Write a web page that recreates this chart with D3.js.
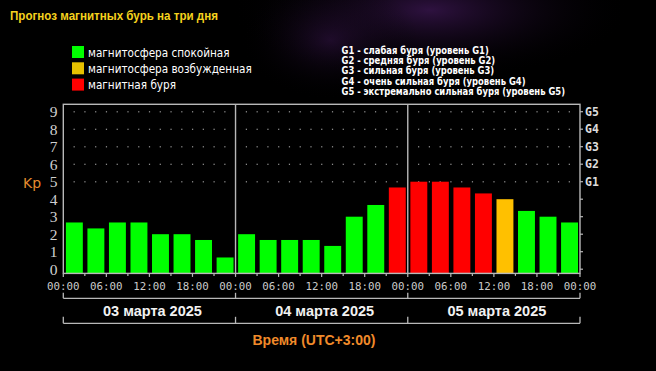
<!DOCTYPE html>
<html><head><meta charset="utf-8">
<script src="https://cdn.jsdelivr.net/npm/d3@7"></script>
<style>html,body{margin:0;padding:0;background:#000;}svg{display:block;}</style>
</head><body>
<svg id="c" width="656" height="371"></svg>
<script>
// ---- data ----
const days = ["03 марта 2025", "04 марта 2025", "05 марта 2025"];
const hourLabels = ["00:00", "06:00", "12:00", "18:00"];
const kp = [
  2.67, 2.33, 2.67, 2.67, 2.0, 2.0, 1.67, 0.67,
  2.0, 1.67, 1.67, 1.67, 1.33, 3.0, 3.67, 4.67,
  5.0, 5.0, 4.67, 4.33, 4.0, 3.33, 3.0, 2.67
];
const yTicks = [0,1,2,3,4,5,6,7,8,9];
const gLevels = [5,6,7,8,9];
const gLabels = ["G1","G2","G3","G4","G5"];
const legendItems = ["магнитосфера спокойная", "магнитосфера возбужденная", "магнитная буря"];
const legendColors = ["#00ff00", "#e6c000", "#ff0000"];
const gDescriptions = [
  "G1 - слабая буря (уровень G1)",
  "G2 - средняя буря (уровень G2)",
  "G3 - сильная буря (уровень G3)",
  "G4 - очень сильная буря (уровень G4)",
  "G5 - экстремально сильная буря (уровень G5)"
];
const titleText = "Прогноз магнитных бурь на три дня";
const axisTitle = "Время (UTC+3:00)";

const svg = d3.select("#c");
const defs = svg.append("defs");
const rg = defs.append("radialGradient").attr("id","neb").attr("cx","0.5").attr("cy","0.5").attr("r","0.5");
rg.append("stop").attr("offset","0").attr("stop-color","#3a1650").attr("stop-opacity",0.8);
rg.append("stop").attr("offset","1").attr("stop-color","#000").attr("stop-opacity",0);
svg.append("rect").attr("width",656).attr("height",371).attr("fill","#000");
svg.append("ellipse").attr("cx",430).attr("cy",10).attr("rx",200).attr("ry",70).attr("fill","url(#neb)");
svg.append("ellipse").attr("cx",330).attr("cy",40).attr("rx",90).attr("ry",60).attr("fill","url(#neb)").attr("opacity",0.6);

// scales
const L = 63.3, R = 580, T = 104.3;
const x = d3.scaleLinear().domain([0, 72]).range([L, R]);
const y = d3.scaleLinear().domain([0, 9]).range([269.2, 111.7]);
const B = y(0) + 4.2;
const frameColor = "#b8b8b8";

function colorOf(v){ return v > 4.1 ? "#ff0000" : (v >= 4 ? "#ffc000" : "#00ff00"); }

// grid dots (rows 5..9)
const dotG = svg.append("g");
gLevels.forEach(lv => {
  for (let d = 0; d < 3; d++) {
    for (let k = 1; k <= 15; k++) {
      dotG.append("rect").attr("x", x(d*24 + k*1.5) - 0.5).attr("y", y(lv) - 0.5)
        .attr("width",1.2).attr("height",1.2).attr("fill","#9a9a9a");
    }
  }
});

// bars
svg.append("g").selectAll("rect").data(kp).join("rect")
  .attr("x", (d,i) => x(i*3) + 2.6)
  .attr("width", (d,i) => x(i*3+3) - x(i*3) - 4.6)
  .attr("y", d => y(d))
  .attr("height", d => B - y(d))
  .attr("fill", d => colorOf(d));

// frame
svg.append("rect").attr("x",L).attr("y",T).attr("width",R-L).attr("height",B-T)
  .attr("fill","none").attr("stroke",frameColor).attr("stroke-width",1.4);
[24,48].forEach(h => svg.append("line").attr("x1",x(h)).attr("x2",x(h)).attr("y1",T).attr("y2",B)
  .attr("stroke",frameColor).attr("stroke-width",1.4));

// x ticks every 3h
const xt = d3.range(0, 73, 3);
svg.append("g").selectAll("line").data(xt).join("line")
  .attr("x1", d => x(d)).attr("x2", d => x(d)).attr("y1", B).attr("y2", d => B + (d % 6 === 0 ? 3.5 : 2.5))
  .attr("stroke", frameColor).attr("stroke-width",1.2);
const labelHours = d3.range(0, 73, 6);
svg.append("g").selectAll("text").data(labelHours).join("text")
  .attr("x", d => x(d)).attr("y", 290)
  .attr("text-anchor","middle")
  .attr("font-family","DejaVu Sans Mono").attr("font-size",10.8).attr("fill","#cacaca")
  .text(d => hourLabels[(d/6) % 4]);

// left y labels
svg.append("g").selectAll("text").data(yTicks).join("text")
  .attr("x", 53.5).attr("y", d => y(d)).attr("dy","0.36em")
  .attr("text-anchor","middle")
  .attr("font-family","Liberation Serif").attr("font-size",15.5).attr("fill","#d0d0d0")
  .text(d => d);
svg.append("text").attr("x",32).attr("y",y(5)+1).attr("dy","0.36em").attr("text-anchor","middle")
  .attr("font-family","DejaVu Sans").attr("font-size",14).attr("fill","#e58a2e").text("Kp");

// right G labels and ticks
svg.append("g").selectAll("line").data(yTicks).join("line")
  .attr("x1", R).attr("x2", R+3).attr("y1", d => y(d)).attr("y2", d => y(d))
  .attr("stroke", frameColor).attr("stroke-width",1.2);
svg.append("g").selectAll("text").data(gLevels).join("text")
  .attr("x", 585).attr("y", d => y(d)).attr("dy","0.36em")
  .attr("font-family","DejaVu Sans Mono").attr("font-weight","bold").attr("font-size",11.5)
  .attr("fill","#dcdcdc")
  .text((d,i) => gLabels[i]);

// date brackets
function bracket(yy, up){
  svg.append("line").attr("x1",L).attr("x2",R).attr("y1",yy).attr("y2",yy)
    .attr("stroke",frameColor).attr("stroke-width",1.3);
  [0,24,48,72].forEach(h => svg.append("line").attr("x1",x(h)).attr("x2",x(h))
    .attr("y1",yy).attr("y2",yy-up).attr("stroke",frameColor).attr("stroke-width",1.3));
}
bracket(298.3, 5.5);
bracket(323.3, 6.5);
svg.append("g").selectAll("text").data(days).join("text")
  .attr("x",(d,i) => x(i*24+12) + 3).attr("y",310.5).attr("dy","0.36em")
  .attr("text-anchor","middle")
  .attr("font-family","Liberation Sans").attr("font-weight","bold").attr("font-size",14.5)
  .attr("fill","#f2f2f2").text(d => d);

svg.append("text").attr("x",314).attr("y",340).attr("dy","0.36em").attr("text-anchor","middle")
  .attr("font-family","Liberation Sans").attr("font-weight","bold").attr("font-size",14)
  .attr("fill","#f08a2a").text(axisTitle);

// title
svg.append("text").attr("x",10).attr("y",15).attr("dy","0.36em")
  .attr("font-family","Liberation Sans").attr("font-weight","bold").attr("font-size",13)
  .attr("textLength",208).attr("lengthAdjust","spacingAndGlyphs")
  .attr("fill","#f5d21e").text(titleText);

// left legend
const lg = svg.append("g").selectAll("g").data(legendItems).join("g")
  .attr("transform",(d,i) => `translate(72, ${52 + i*16.3})`);
lg.append("rect").attr("x",0).attr("y",-6).attr("width",12).attr("height",12).attr("fill",(d,i) => legendColors[i]);
const lgt = lg.append("text").attr("x",16).attr("y",0).attr("dy","0.36em")
  .attr("font-family","DejaVu Sans").attr("font-size",12.5).attr("fill","#ffffff").text(d => d);
// horizontally condense to match reference width
const lw0 = lgt.nodes()[0].getComputedTextLength();
const lf = 141.5 / lw0;
lgt.each(function(){ const w = this.getComputedTextLength();
  d3.select(this).attr("textLength", w*lf).attr("lengthAdjust","spacingAndGlyphs"); });

// right legend
const gt = svg.append("g").selectAll("text").data(gDescriptions).join("text")
  .attr("x",341.5).attr("y",(d,i) => 50 + i*10.4).attr("dy","0.36em")
  .attr("font-family","DejaVu Sans").attr("font-weight","bold").attr("font-size",10)
  .attr("fill","#ffffff").text(d => d);
const gw0 = gt.nodes()[4].getComputedTextLength();
const gf = 223.5 / gw0;
gt.each(function(){ const w = this.getComputedTextLength();
  d3.select(this).attr("textLength", w*gf).attr("lengthAdjust","spacingAndGlyphs"); });
</script>
</body></html>
